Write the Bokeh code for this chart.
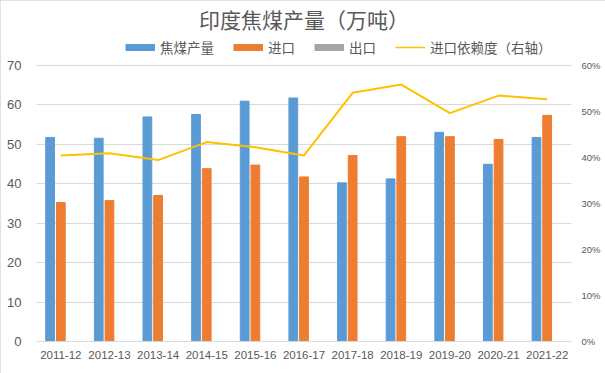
from bokeh.plotting import figure
from bokeh.models import (Range1d, LinearAxis, FactorRange, Legend, LegendItem,
                          NumeralTickFormatter, FixedTicker, ColumnDataSource)
from bokeh.transform import dodge
from bokeh.embed import file_html
from bokeh.resources import INLINE

categories = ["2011-12", "2012-13", "2013-14", "2014-15", "2015-16", "2016-17",
              "2017-18", "2018-19", "2019-20", "2020-21", "2021-22"]
production = [51.7, 51.5, 56.9, 57.5, 60.9, 61.7, 40.2, 41.2, 53.0, 44.9, 51.7]
imports = [35.2, 35.7, 37.0, 43.8, 44.7, 41.7, 47.1, 51.9, 51.9, 51.2, 57.3]
exports = [0, 0, 0, 0, 0, 0, 0, 0, 0, 0, 0]
dependence_pct = [40.4, 40.9, 39.4, 43.3, 42.2, 40.4, 54.0, 55.8, 49.6, 53.4, 52.6]
left_ticks = [0, 10, 20, 30, 40, 50, 60, 70]
right_ticks = [0, 0.1, 0.2, 0.3, 0.4, 0.5, 0.6]

BLUE = "#5B9BD5"
ORANGE = "#ED7D31"
GRAY = "#A5A5A5"
YELLOW = "#FFC000"
TXT = "#595959"
GRID = "#D9D9D9"
CJK = "Noto Sans CJK SC"
LAT = "Liberation Sans"

src = ColumnDataSource(dict(
    cat=categories, production=production, imports=imports, exports=exports,
    dep=[v / 100 for v in dependence_pct],
))
# legend swatch proxies: one non-drawable (NaN) point so nothing shows in the plot
proxy = ColumnDataSource(dict(cat=[categories[0]], v=[float("nan")]))

# frame extends above the 70 gridline to hold the legend
p = figure(x_range=FactorRange(*categories, range_padding=0),
           y_range=Range1d(0, 77.53),
           width=605, height=373, output_backend="svg", toolbar_location=None,
           min_border_left=36, min_border_right=34, min_border_top=32,
           min_border_bottom=32)
p.styles = {"outline": "1px solid #D9D9D9", "outline-offset": "-1px"}
p.extra_y_ranges = {"right": Range1d(0, 0.6645)}

bw = 0.18
p.vbar(x=dodge("cat", -0.22, range=p.x_range), top="production", width=bw,
       source=src, color=BLUE)
p.vbar(x=dodge("cat", 0.0, range=p.x_range), top="imports", width=bw,
       source=src, color=ORANGE)
p.vbar(x=dodge("cat", 0.22, range=p.x_range), top="exports", width=bw,
       source=src, color=GRAY)
p.line(x="cat", y="dep", source=src, y_range_name="right",
       line_color=YELLOW, line_width=2)

lb = p.line(x="cat", y="v", source=proxy, line_color=BLUE, line_width=7, line_cap="butt")
lo = p.line(x="cat", y="v", source=proxy, line_color=ORANGE, line_width=7, line_cap="butt")
lg = p.line(x="cat", y="v", source=proxy, line_color=GRAY, line_width=7, line_cap="butt")
ly = p.line(x="cat", y="v", source=proxy, line_color=YELLOW, line_width=1.5)

legend = Legend(items=[
    LegendItem(label="焦煤产量", renderers=[lb]),
    LegendItem(label="进口", renderers=[lo]),
    LegendItem(label="出口", renderers=[lg]),
    LegendItem(label="进口依赖度（右轴）", renderers=[ly]),
], orientation="horizontal", location=(89, 284), glyph_width=30, glyph_height=10,
    label_standoff=5, spacing=19, padding=0, margin=0, border_line_color=None,
    background_fill_alpha=0, label_text_font=CJK, label_text_font_size="13.5px",
    label_text_color=TXT, label_height=16)
p.add_layout(legend, "center")

p.title.text = "印度焦煤产量（万吨）"
p.title.align = "center"
p.title.text_font = CJK
p.title.text_font_size = "21px"
p.title.text_font_style = "normal"
p.title.text_color = TXT
p.title.standoff = 3
p.title.offset = 7

# axes
yl = p.yaxis[0]
yl.ticker = FixedTicker(ticks=left_ticks)
yl.axis_line_color = None
yl.major_tick_line_color = None
yl.minor_tick_line_color = None
yl.major_tick_out = 0
yl.major_tick_in = 0
yl.major_label_text_font = LAT
yl.major_label_text_font_size = "13px"
yl.major_label_text_color = TXT
yl.major_label_standoff = 15

yr = LinearAxis(y_range_name="right", ticker=FixedTicker(ticks=right_ticks),
                formatter=NumeralTickFormatter(format="0%"))
yr.axis_line_color = None
yr.major_tick_line_color = None
yr.minor_tick_line_color = None
yr.major_tick_out = 0
yr.major_tick_in = 0
yr.major_label_text_font = LAT
yr.major_label_text_font_size = "9.5px"
yr.major_label_text_color = TXT
yr.major_label_standoff = 10
p.add_layout(yr, "right")

xa = p.xaxis[0]
xa.axis_line_color = GRID
xa.major_tick_line_color = None
xa.minor_tick_line_color = None
xa.major_tick_out = 0
xa.major_tick_in = 0
xa.major_label_text_font = LAT
xa.major_label_text_font_size = "11.5px"
xa.major_label_text_color = TXT
xa.major_label_standoff = 9

p.xgrid.grid_line_color = None
p.ygrid.grid_line_color = GRID
p.ygrid.ticker = FixedTicker(ticks=left_ticks)
p.outline_line_color = None

open("out.html", "w").write(file_html(p, INLINE))
